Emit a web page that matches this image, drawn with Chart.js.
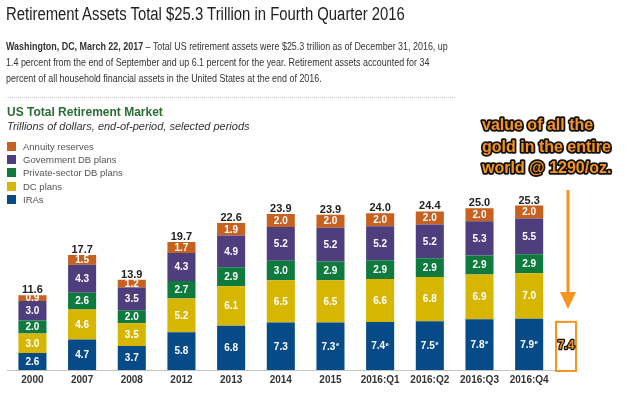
<!DOCTYPE html>
<html><head><meta charset="utf-8">
<script src="https://cdn.jsdelivr.net/npm/chart.js@4.4.1/dist/chart.umd.min.js"></script>
<style>
html,body{margin:0;padding:0;background:#fff;width:640px;height:394px;overflow:hidden;}
#wrap{position:relative;width:640px;height:394px;}
canvas{position:absolute;left:0;top:0;}
.t{position:absolute;white-space:nowrap;font-family:"Liberation Sans",Arial,sans-serif;transform-origin:0 0;}
#title{left:6px;top:4px;font-size:18px;line-height:20px;color:#222;transform:scaleX(0.826);}
#para{left:6px;top:38.2px;font-size:10.9px;line-height:16px;color:#333;transform:scaleX(0.82);}
#dots{position:absolute;left:6px;top:97px;width:449px;border-top:1px dotted #c8c8c8;}
#head{left:7px;top:105px;font-size:12px;line-height:14px;font-weight:bold;color:#2a6e35;}
#sub{left:7px;top:120px;font-size:11px;line-height:13px;font-style:italic;color:#333;}
#legend{position:absolute;left:7px;top:140px;}
.li{display:flex;align-items:center;height:13.2px;font-family:"Liberation Sans",Arial,sans-serif;font-size:9.5px;color:#555;white-space:nowrap;}
.sw{width:9px;height:9px;margin-right:7px;}
</style></head>
<body><div id="wrap">
<canvas id="c" width="640" height="394"></canvas>
<div class="t" id="title">Retirement Assets Total $25.3 Trillion in Fourth Quarter 2016</div>
<div class="t" id="para"><b>Washington, DC, March 22, 2017</b> – Total US retirement assets were $25.3 trillion as of December 31, 2016, up<br>1.4 percent from the end of September and up 6.1 percent for the year. Retirement assets accounted for 34<br>percent of all household financial assets in the United States at the end of 2016.</div>
<div id="dots"></div>
<div class="t" id="head">US Total Retirement Market</div>
<div class="t" id="sub">Trillions of dollars, end-of-period, selected periods</div>
<div id="legend"></div>
</div>
<script>
const categories = ['2000','2007','2008','2012','2013','2014','2015','2016:Q1','2016:Q2','2016:Q3','2016:Q4'];
const iras = [2.6,4.7,3.7,5.8,6.8,7.3,7.3,7.4,7.5,7.8,7.9];
const dcPlans = [3.0,4.6,3.5,5.2,6.1,6.5,6.5,6.6,6.8,6.9,7.0];
const privateDb = [2.0,2.6,2.0,2.7,2.9,3.0,2.9,2.9,2.9,2.9,2.9];
const governmentDb = [3.0,4.3,3.5,4.3,4.9,5.2,5.2,5.2,5.2,5.3,5.5];
const annuities = [0.9,1.5,1.2,1.7,1.9,2.0,2.0,2.0,2.0,2.0,2.0];
const totals = [11.6,17.7,13.9,19.7,22.6,23.9,23.9,24.0,24.4,25.0,25.3];
const iraEstimated = [false,false,false,false,false,false,true,true,true,true,true];
const goldValue = 7.4;
const seriesNames = ['IRAs','DC plans','Private-sector DB plans','Government DB plans','Annuity reserves'];
const seriesValues = [iras, dcPlans, privateDb, governmentDb, annuities];
const seriesColors = ['#064b88','#d6b600','#0e7a3e','#4e3e7e','#c7611f'];
const annotationLines = ['value of all the','gold in the entire','world @ 1290/oz.'];

const FONT = '"Liberation Sans", Arial, sans-serif';
const ORANGE = '#f7941d';

// HTML legend (top to bottom: reverse stacking order)
const leg = document.getElementById('legend');
for (let i = seriesNames.length - 1; i >= 0; i--) {
  const row = document.createElement('div'); row.className = 'li';
  const sw = document.createElement('span'); sw.className = 'sw'; sw.style.background = seriesColors[i];
  const tx = document.createElement('span'); tx.textContent = seriesNames[i];
  row.appendChild(sw); row.appendChild(tx); leg.appendChild(row);
}

const labelPlugin = {
  id: 'labels',
  afterDatasetsDraw(chart) {
    const ctx = chart.ctx;
    ctx.save();
    ctx.textBaseline = 'middle';
    chart.data.datasets.forEach((ds, di) => {
      const meta = chart.getDatasetMeta(di);
      meta.data.forEach((bar, i) => {
        const txt = ds.data[i].toFixed(1);
        const cy = (bar.y + bar.base) / 2 + 0.5;
        ctx.fillStyle = '#fff';
        ctx.font = 'bold 10px ' + FONT;
        if (di === 0 && iraEstimated[i]) {
          const w = ctx.measureText(txt).width;
          const x0 = bar.x - (w + 4) / 2;
          ctx.textAlign = 'left';
          ctx.fillText(txt, x0, cy);
          ctx.font = 'bold 6px ' + FONT;
          ctx.fillText('e', x0 + w + 0.5, cy - 2.5);
        } else {
          ctx.textAlign = 'center';
          ctx.fillText(txt, bar.x, cy);
        }
      });
    });
    const topMeta = chart.getDatasetMeta(chart.data.datasets.length - 1);
    ctx.fillStyle = '#222';
    ctx.font = 'bold 11px ' + FONT;
    ctx.textAlign = 'center';
    ctx.textBaseline = 'alphabetic';
    topMeta.data.forEach((bar, i) => {
      ctx.fillText(totals[i].toFixed(1), bar.x, bar.y - 2);
    });
    ctx.restore();
  }
};

const goldPlugin = {
  id: 'gold',
  afterDraw(chart) {
    const ctx = chart.ctx, ys = chart.scales.y, ca = chart.chartArea;
    const yTop = ys.getPixelForValue(goldValue), yBot = ys.getPixelForValue(0);
    const bx = ca.right + 2, bw = 20;
    ctx.save();
    ctx.strokeStyle = ORANGE; ctx.lineWidth = 2;
    ctx.strokeRect(bx, yTop, bw, yBot - yTop + 1);
    ctx.font = 'bold 12px ' + FONT;
    ctx.textAlign = 'center'; ctx.textBaseline = 'middle';
    ctx.lineJoin = 'round';
    ctx.lineWidth = 2.5; ctx.strokeStyle = '#111';
    ctx.strokeText(goldValue.toFixed(1), bx + bw / 2, (yTop + yBot) / 2);
    ctx.fillStyle = ORANGE;
    ctx.fillText(goldValue.toFixed(1), bx + bw / 2, (yTop + yBot) / 2);
    // arrow
    const ax = bx + bw / 2 + 2, tip = yTop - 13;
    ctx.strokeStyle = ORANGE; ctx.lineWidth = 3; ctx.lineCap = 'butt';
    ctx.beginPath(); ctx.moveTo(ax, 190); ctx.lineTo(ax, tip - 15); ctx.stroke();
    ctx.fillStyle = ORANGE;
    ctx.beginPath(); ctx.moveTo(ax - 8, tip - 17); ctx.lineTo(ax + 8, tip - 17); ctx.lineTo(ax, tip); ctx.closePath(); ctx.fill();
    // annotation text
    ctx.font = 'bold 16px ' + FONT;
    ctx.textAlign = 'left'; ctx.textBaseline = 'alphabetic';
    const ys0 = [130, 151.5, 173];
    annotationLines.forEach((l, k) => {
      ctx.lineWidth = 3.5; ctx.strokeStyle = '#111';
      ctx.strokeText(l, 482, ys0[k]);
      ctx.fillStyle = ORANGE;
      ctx.fillText(l, 482, ys0[k]);
    });
    ctx.restore();
  }
};

new Chart(document.getElementById('c'), {
  type: 'bar',
  data: {
    labels: categories,
    datasets: seriesNames.map((n, i) => ({
      label: n, data: seriesValues[i], backgroundColor: seriesColors[i],
      borderWidth: 0, categoryPercentage: 1.0, barPercentage: 0.565
    }))
  },
  options: {
    responsive: false, animation: false, devicePixelRatio: 1,
    layout: { padding: { left: 7.6, right: 86, top: 188, bottom: 0 } },
    plugins: { legend: { display: false }, tooltip: { enabled: false } },
    scales: {
      x: {
        stacked: true,
        grid: { display: false, drawTicks: false },
        border: { display: true, color: '#c4c4c4', width: 1 },
        ticks: { autoSkip: false, maxRotation: 0, padding: 4, color: '#333', font: { family: FONT, size: 10, weight: 'bold' } },
        afterFit(s) { s.height = 24; }
      },
      y: { stacked: true, display: false, min: 0, max: 28 }
    }
  },
  plugins: [labelPlugin, goldPlugin]
});
</script>
</body></html>
